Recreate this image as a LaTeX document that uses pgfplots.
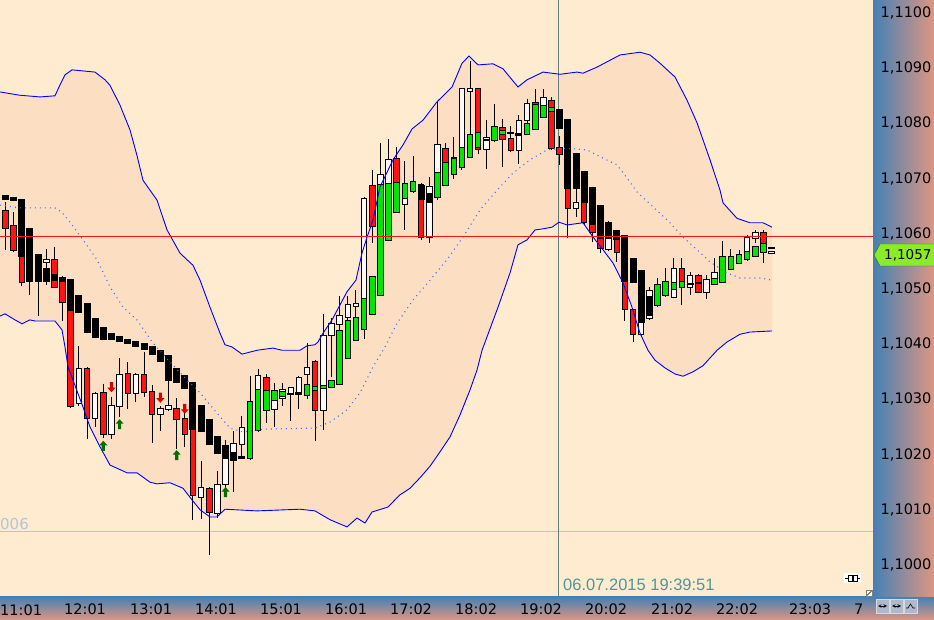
\documentclass[border=0pt]{standalone}
\usepackage{pgfplots}
\usepackage{pgfplotstable}
\pgfplotsset{compat=1.18}
\usepgfplotslibrary{fillbetween}
\usepackage{fontspec}
\setmainfont{DejaVu Sans}
\newfontfamily\datefont{Liberation Sans}

\definecolor{bg}{RGB}{255,235,207}
\definecolor{bandfill}{RGB}{252,222,194}
\definecolor{stripblue}{RGB}{70,128,180}
\definecolor{stripsalmon}{RGB}{222,150,130}
\definecolor{candlered}{RGB}{255,20,20}
\definecolor{candlewhite}{RGB}{255,248,244}
\definecolor{hagreen}{RGB}{0,230,0}
\definecolor{bandblue}{RGB}{0,0,255}
\definecolor{midblue}{RGB}{60,110,255}
\definecolor{crossc}{RGB}{100,128,118}
\definecolor{lightline}{RGB}{170,200,235}
\definecolor{c006}{RGB}{175,198,220}
\definecolor{datec}{RGB}{80,150,150}
\definecolor{taggreen}{RGB}{140,235,40}
\definecolor{arrowgreen}{RGB}{0,110,0}
\definecolor{arrowred}{RGB}{220,0,0}
\definecolor{icongray}{RGB}{175,185,205}

% price in pips above 1,1000; x = bar number (7.5 min bars)
\pgfdeclareplotmark{uparr}{%
  \pgfpathmoveto{\pgfpoint{0pt}{5pt}}\pgfpathlineto{\pgfpoint{4pt}{0.5pt}}%
  \pgfpathlineto{\pgfpoint{1.6pt}{0.5pt}}\pgfpathlineto{\pgfpoint{1.6pt}{-5pt}}%
  \pgfpathlineto{\pgfpoint{-1.6pt}{-5pt}}\pgfpathlineto{\pgfpoint{-1.6pt}{0.5pt}}%
  \pgfpathlineto{\pgfpoint{-4pt}{0.5pt}}\pgfpathclose\pgfusepathqfill}
\pgfdeclareplotmark{downarr}{%
  \pgfpathmoveto{\pgfpoint{0pt}{-5pt}}\pgfpathlineto{\pgfpoint{4pt}{-0.5pt}}%
  \pgfpathlineto{\pgfpoint{1.6pt}{-0.5pt}}\pgfpathlineto{\pgfpoint{1.6pt}{5pt}}%
  \pgfpathlineto{\pgfpoint{-1.6pt}{5pt}}\pgfpathlineto{\pgfpoint{-1.6pt}{-0.5pt}}%
  \pgfpathlineto{\pgfpoint{-4pt}{-0.5pt}}\pgfpathclose\pgfusepathqfill}

% vertical bar from y to y+plus, drawn as a thick error bar
\pgfplotsset{
  bar/.style 2 args={draw=none, mark=none, forget plot, error bars/.cd, y dir=plus, y explicit,
    error mark=none, error bar style={draw=#1, line width=#2, solid}},
}

% rising candles: body lo/hi, wick wl/wh
\pgfplotstableread{
k lo hi wl wh
5 54.9 55.3 50.7 57.2
9 29.3 35.5 28.8 39.7
11 26.6 31.0 25.0 31.3
13 23.7 28.8 22.8 30.4
14 28.8 34.4 26.8 37.5
16 31.2 34.4 29.5 34.8
19 27.4 28.3 24.3 28.8
20 28.3 28.8 27.9 33.3
24 12.3 13.9 8.3 18.8
26 9.4 14.5 8.5 17.0
27 14.7 20.8 13.6 22.6
28 19.0 21.9 13.2 24.3
29 21.9 24.8 19.7 27.0
30 24.5 29.0 19.0 34.2
31 25.4 34.2 24.1 35.5
33 28.3 31.2 25.0 33.0
34 30.3 31.7 28.8 33.0
35 31.0 32.1 26.1 32.2
36 31.3 33.9 28.3 34.2
37 34.6 35.7 30.1 40.2
39 28.1 41.5 24.5 45.5
40 41.7 43.7 34.1 44.7
41 43.7 45.1 42.2 48.7
42 44.9 47.1 44.4 48.7
43 46.9 47.3 44.0 49.8
44 42.8 66.3 40.9 66.7
46 66.1 70.7 65.2 76.4
47 67.9 73.4 67.0 77.2
49 65.4 67.9 60.7 73.2
50 67.9 69.2 67.4 74.1
52 59.4 68.5 58.3 70.3
53 66.7 76.1 66.1 83.9
55 71.2 73.7 69.9 77.5
56 72.1 86.2 71.6 86.4
57 85.9 86.2 77.0 91.3
59 75.4 77.4 71.7 80.6
60 77.4 79.2 76.6 83.5
63 75.2 80.4 72.6 81.5
64 80.6 83.5 79.9 84.4
66 83.2 84.6 82.4 86.2
70 64.7 65.6 63.0 68.1
74 57.2 60.9 56.9 62.3
78 41.8 49.8 41.3 50.7
79 44.7 49.6 44.4 50.4
80 48.0 50.2 46.7 52.0
81 49.5 50.9 48.6 53.8
82 48.6 53.6 48.4 55.6
84 50.4 52.4 48.9 53.1
86 49.5 51.6 48.2 52.5
87 51.8 52.9 50.9 55.6
88 51.6 54.9 51.1 58.7
89 53.8 55.6 53.4 57.2
90 54.9 56.0 54.5 57.1
91 56.7 59.2 55.1 59.8
92 59.2 60.1 58.3 60.7
94 56.5 56.7 56.3 56.9
}\regW

% falling candles
\pgfplotstableread{
k lo hi wl wh
0 61.1 64.1 57.1 65.8
1 57.1 61.4 56.7 64.0
2 51.3 58.9 50.5 59.8
3 52.5 58.0 48.9 58.9
4 52.0 55.6 45.1 56.2
6 50.4 55.3 50.2 57.6
7 47.6 51.8 44.2 52.4
8 28.8 50.7 28.4 51.3
10 26.6 35.5 22.8 35.9
12 23.7 31.2 23.0 32.8
15 31.2 34.6 28.3 36.8
17 31.3 34.4 30.4 38.6
18 27.4 31.3 22.1 32.6
21 26.4 28.3 21.0 30.3
22 23.7 26.4 21.4 29.2
23 12.7 25.4 8.2 26.3
25 9.6 13.8 1.8 14.1
32 29.9 33.9 25.7 34.6
38 28.1 36.8 22.5 37.1
45 61.4 68.7 58.3 71.6
48 66.1 73.6 65.2 75.7
51 59.4 68.8 58.9 69.2
54 69.7 75.4 68.8 76.4
58 75.4 86.2 74.5 86.4
61 77.2 79.2 72.1 80.8
62 75.2 77.2 74.8 79.5
65 81.5 83.7 81.0 86.2
67 75.5 84.1 75.2 84.8
68 74.5 75.5 72.5 77.7
69 64.7 75.2 59.2 75.5
71 62.1 67.9 61.6 68.8
72 60.3 66.1 58.5 67.0
73 57.4 63.4 56.5 64.3
75 56.7 60.3 54.9 60.7
76 46.4 57.1 44.2 58.0
77 41.8 46.2 40.4 46.4
83 50.7 53.6 47.1 55.6
85 49.5 52.4 49.3 52.7
93 57.1 60.1 54.7 60.7
}\regR

% heikin ashi bodies, falling
\pgfplotstableread{
k lo hi
0 66.1 67.0
1 65.9 66.7
2 55.8 66.3
3 51.3 61.1
4 51.3 56.3
5 51.3 53.8
6 51.4 52.7
7 51.3 52.2
8 46.0 51.8
9 45.7 48.9
10 42.0 47.5
11 41.1 44.7
12 40.8 43.1
13 40.8 42.0
14 40.4 41.5
15 40.0 40.9
16 39.5 40.6
17 38.9 40.2
18 38.0 39.7
19 36.8 38.9
20 33.3 38.0
21 33.0 35.7
22 31.9 34.4
23 24.5 33.2
24 24.1 29.0
25 21.7 26.4
26 20.1 23.4
27 19.2 21.7
28 19.0 20.5
29 19.2 19.7
35 30.8 31.2
36 30.8 31.3
51 66.1 68.8
52 65.6 67.4
59 76.8 77.2
62 78.1 78.4
63 77.7 78.3
68 79.0 82.6
69 68.1 80.8
70 68.1 74.6
71 65.6 71.4
72 61.6 68.5
73 59.1 65.2
74 59.1 62.1
75 58.9 60.7
76 51.3 59.8
77 51.1 55.6
78 43.8 53.4
79 45.1 48.7
84 50.7 51.1
85 50.9 51.3
94 57.2 57.6
}\haB

% heikin ashi bodies, rising
\pgfplotstableread{
k lo hi
30 19.4 29.5
31 24.5 31.7
32 28.1 31.5
33 29.9 31.5
34 30.6 31.3
37 30.8 32.6
38 31.7 32.2
39 32.1 32.4
40 32.2 33.3
41 32.8 42.4
42 37.5 44.2
43 40.8 44.7
44 42.8 48.2
45 45.5 52.2
46 48.9 68.8
47 58.9 69.0
48 63.9 69.2
49 66.5 69.0
50 67.8 69.4
53 66.7 71.0
54 68.8 72.8
55 70.8 73.6
56 72.1 75.5
57 73.9 77.9
58 75.7 78.3
60 77.0 79.3
61 78.1 78.6
64 78.1 79.9
65 79.0 83.3
66 81.2 83.2
67 82.2 82.8
80 47.1 50.7
81 48.9 51.3
82 50.0 51.1
83 50.4 51.3
87 50.9 51.8
88 51.3 55.8
89 53.6 55.8
90 54.7 56.2
91 55.4 56.7
92 56.0 57.6
93 56.7 58.2
}\haG

\pgfplotstableread{
k p
-0.67 85.7
1.78 85.1
4.23 84.8
6.07 85.0
6.69 87.0
7.30 88.8
8.16 89.7
10.98 89.3
12.21 87.9
12.82 86.9
14.05 83.3
15.28 78.8
16.13 74.2
16.87 69.7
18.59 66.1
19.82 60.7
21.41 56.5
23.00 54.3
23.87 51.6
25.09 46.7
26.32 42.0
26.93 39.9
27.79 39.5
29.02 38.2
30.86 38.9
32.82 39.3
33.93 38.9
36.13 38.9
36.99 39.7
37.97 39.9
38.34 40.4
38.96 42.0
40.06 44.4
41.90 49.5
43.00 51.6
43.74 56.5
44.36 59.4
45.09 62.5
45.95 68.5
47.55 73.4
48.77 76.1
49.88 79.0
51.23 80.6
52.94 83.9
54.79 86.6
56.01 90.9
56.87 92.2
57.98 90.6
59.82 90.8
61.04 89.9
62.15 87.9
62.88 86.6
63.99 87.9
65.95 89.3
68.04 88.9
70.12 89.3
70.86 89.1
72.58 90.2
75.40 92.4
77.85 92.9
79.08 92.4
80.31 90.9
82.15 88.4
83.62 84.2
84.85 80.1
86.44 73.4
87.67 67.9
88.04 65.6
89.75 62.8
91.35 62.0
92.94 62.0
94.05 61.2
}\bandU

\pgfplotstableread{
k p
-0.67 45.1
-0.06 45.5
1.17 44.4
2.02 43.7
3.00 44.4
3.62 44.2
6.07 44.2
6.93 42.6
7.30 39.5
7.67 35.9
8.28 33.5
9.51 28.6
10.37 25.0
11.60 21.4
12.82 18.1
14.91 16.7
16.13 16.7
17.73 15.0
18.59 14.7
20.18 14.9
21.78 13.9
22.88 11.8
23.87 10.0
25.09 8.7
25.95 8.7
26.93 10.1
30.86 9.8
36.13 10.1
37.97 9.8
39.82 8.2
41.90 6.9
43.13 8.5
44.11 7.6
44.97 9.6
46.93 10.5
47.79 11.8
48.40 12.7
49.63 13.9
50.86 15.8
52.09 17.9
53.31 20.5
54.54 23.2
55.77 27.2
56.99 31.7
57.85 35.3
58.47 38.9
60.43 46.7
61.90 52.9
62.88 58.0
63.99 58.9
64.97 60.7
65.95 60.9
67.06 61.2
67.91 62.1
68.90 61.6
70.86 62.0
72.09 59.4
73.31 57.1
74.54 54.7
75.77 51.1
76.87 46.7
77.85 42.0
78.83 38.9
79.69 37.1
80.92 35.7
82.15 34.6
83.13 34.2
84.36 35.0
85.58 36.1
86.44 37.5
87.30 38.9
88.53 40.4
90.12 41.8
91.35 42.2
94.05 42.4
}\bandL

\pgfplotstableread{
k p
-0.67 65.2
1.78 64.7
6.07 64.7
6.93 63.9
7.91 62.1
9.51 58.9
11.23 55.3
12.82 50.4
14.42 46.7
16.13 44.4
18.10 40.2
20.55 36.2
22.27 33.5
23.87 31.2
25.95 27.5
27.55 24.8
29.14 24.1
31.60 24.6
37.97 24.8
39.82 25.9
41.90 28.1
43.50 31.2
45.09 35.9
46.56 39.5
48.04 43.8
50.00 48.0
52.09 51.6
54.17 55.3
56.13 59.4
58.22 64.3
60.31 67.9
62.27 71.0
64.36 73.4
66.44 75.2
68.04 75.5
69.63 75.4
71.35 75.2
73.31 73.7
75.03 72.5
76.26 70.1
77.48 67.6
79.45 64.9
81.53 62.0
83.13 59.4
84.85 57.1
86.44 54.9
88.53 52.9
90.12 52.0
92.58 52.0
94.05 51.6
}\bandM

\begin{document}
\begin{tikzpicture}
\shade[top color=stripblue, bottom color=stripsalmon] (0pt,0pt) rectangle (934pt,23pt);
\shade[left color=stripblue, right color=stripsalmon] (873pt,23pt) rectangle (934pt,620pt);
\begin{axis}[
    at={(0pt,23pt)}, anchor=south west,
    scale only axis, width=873pt, height=597pt,
    xmin=-0.675, xmax=106.44, ymin=-5.8, ymax=102.36,
    axis background/.style={fill=bg},
    axis x line*=bottom, axis y line*=right,
    axis line style={candlered, line width=1pt, -},
    tick align=outside,
    major tick length=5pt, minor tick length=3pt,
    major tick style={black, line width=0.8pt},
    minor tick style={black, line width=0.8pt},
    xtick={6.93,15.03,23.0,30.98,38.96,46.93,54.91,62.88,70.86,78.96,86.93,95.89,103.86},
    xticklabels={12:01,13:01,14:01,15:01,16:01,17:02,18:02,19:02,20:02,21:02,22:02,23:03,7},
    ytick={0,10,...,100},
    yticklabels={{1,1000},{1,1010},{1,1020},{1,1030},{1,1040},{1,1050},{1,1060},{1,1070},{1,1080},{1,1090},{1,1100}},
    minor y tick num=4,
    ticklabel style={font=\fontsize{14.5}{16}\selectfont, text=black},
    xticklabel style={anchor=north west, inner sep=0pt, xshift=2pt, yshift=-1.5pt},
    yticklabel style={anchor=west, inner sep=0pt, xshift=2.5pt},
]
\addplot [draw=none, name path=U, forget plot] table [x=k, y=p] {\bandU};
\addplot [draw=none, name path=L, forget plot] table [x=k, y=p] {\bandL};
\addplot [fill=bandfill, draw=none, forget plot] fill between [of=U and L];

\addplot [lightline, line width=1pt, forget plot] coordinates {(-0.675,6.0) (106.44,6.0)};
\addplot [crossc, line width=1pt, forget plot] coordinates {(67.91,-5.8) (67.91,102.36)};

% wicks
\addplot [bar={black}{1pt}]
  table [x=k, y=wl, y error plus expr=\thisrow{wh}-\thisrow{wl}] {\regW};
\addplot [bar={black}{1pt}]
  table [x=k, y=wl, y error plus expr=\thisrow{wh}-\thisrow{wl}] {\regR};

% candle bodies
\addplot [bar={black}{6.5pt}]
  table [x=k, y expr=\thisrow{lo}-0.18, y error plus expr=\thisrow{hi}-\thisrow{lo}+0.36] {\regW};
\addplot [bar={candlewhite}{4.5pt}]
  table [x=k, y=lo, y error plus expr=\thisrow{hi}-\thisrow{lo}] {\regW};
\addplot [bar={black}{6.5pt}]
  table [x=k, y expr=\thisrow{lo}-0.18, y error plus expr=\thisrow{hi}-\thisrow{lo}+0.36] {\regR};
\addplot [bar={candlered}{4.5pt}]
  table [x=k, y=lo, y error plus expr=\thisrow{hi}-\thisrow{lo}] {\regR};

% heikin ashi
\addplot [bar={black}{7pt}]
  table [x=k, y=lo, y error plus expr=\thisrow{hi}-\thisrow{lo}] {\haB};
\addplot [bar={black}{6.5pt}]
  table [x=k, y expr=\thisrow{lo}-0.18, y error plus expr=\thisrow{hi}-\thisrow{lo}+0.36] {\haG};
\addplot [bar={hagreen}{4.5pt}]
  table [x=k, y=lo, y error plus expr=\thisrow{hi}-\thisrow{lo}] {\haG};

% bollinger bands
\addplot [bandblue, line width=0.9pt, forget plot] table [x=k, y=p] {\bandU};
\addplot [bandblue, line width=0.9pt, forget plot] table [x=k, y=p] {\bandL};
\addplot [midblue, line width=1.1pt, dash pattern=on 1pt off 4pt, forget plot] table [x=k, y=p] {\bandM};

\addplot [candlered, line width=1pt, forget plot] coordinates {(-0.675,59.6) (106.44,59.6)};

% signal arrows
\addplot [only marks, mark=uparr, arrowgreen, mark options={fill=arrowgreen}, forget plot]
  coordinates {(12,21.6) (14,25.5) (21,19.9) (27,13.2)};
\addplot [only marks, mark=downarr, arrowred, mark options={fill=arrowred}, forget plot]
  coordinates {(13,32.2) (19,30.3) (22,28.3)};
\end{axis}

\node[anchor=north west, inner sep=0pt, font=\fontsize{14.5}{16}\selectfont] at (0pt,15.5pt) {11:01};
\node[anchor=west, inner sep=0pt, text=c006, font=\fontsize{15}{17}\selectfont] at (0pt,96pt) {006};
\node[anchor=base west, inner sep=0pt, text=datec, font=\datefont\fontsize{16.5}{18}\selectfont] at (563pt,29pt) {06.07.2015 19:39:51};

\fill[taggreen, draw=green!50!black, line width=0.4pt] (874pt,365pt) -- (880pt,376pt) -- (935pt,376pt) -- (935pt,354pt) -- (880pt,354pt) -- cycle;
\node[anchor=west, inner sep=0pt, font=\fontsize{13.5}{15}\selectfont] at (884pt,365pt) {1,1057};

\fill[white] (844pt,37pt) rectangle (861pt,47pt);
\draw[black, line width=0.7pt] (845pt,42pt) -- (848pt,42pt) (848pt,39pt) rectangle (852pt,45pt)
  (853pt,39pt) rectangle (857pt,45pt) (857pt,42pt) -- (860pt,42pt);
\draw[fill=white, draw=gray] (866pt,23.5pt) rectangle (872.5pt,30pt);
\draw[black, line width=0.6pt] (867pt,24.5pt) -- (871.5pt,29pt);

\draw[fill=icongray, draw=white!70!gray] (876pt,7pt) rectangle (889pt,21pt);
\draw[fill=icongray, draw=white!70!gray] (890pt,7pt) rectangle (903pt,21pt);
\draw[fill=icongray, draw=white!70!gray] (904pt,7pt) rectangle (917pt,21pt);
\draw[<->, >=stealth, line width=0.6pt] (878pt,14pt) -- (887pt,14pt);
\draw[<->, >=stealth, line width=0.6pt] (892pt,14pt) -- (901pt,14pt);
\draw[line width=0.6pt] (906pt,12pt) -- (908pt,12pt) -- (910.5pt,16pt) -- (913pt,12pt) -- (915pt,12pt);

\pgfresetboundingbox
\path[use as bounding box] (0pt,0pt) rectangle (934pt,620pt);
\end{tikzpicture}
\end{document}
